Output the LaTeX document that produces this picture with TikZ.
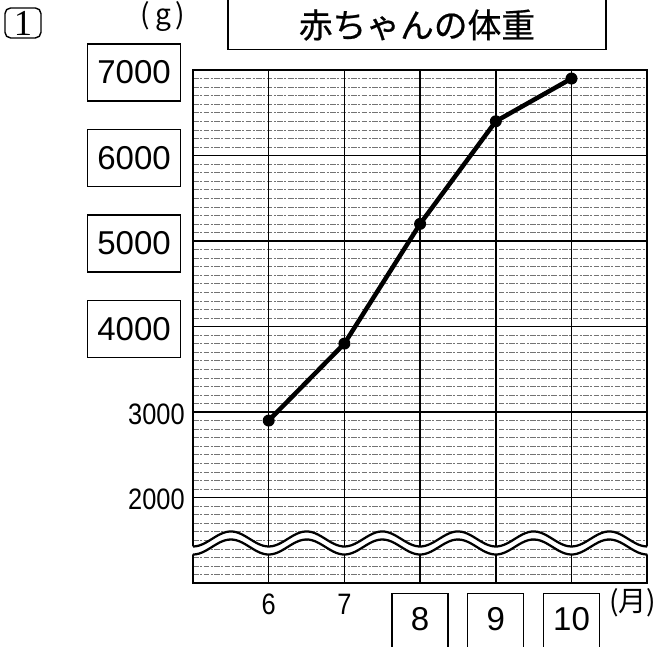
\documentclass[tikz,border=0pt]{standalone}
\usepackage{fontspec}
\newfontfamily\jpfont{Noto Sans CJK JP}
\newfontfamily\titlefont[FakeBold=0.6]{Noto Sans CJK JP}
\newfontfamily\numfont[FakeStretch=0.86]{Liberation Sans}
\newfontfamily\boxnumfont{Liberation Sans}
\newfontfamily\qnumfont{Liberation Serif}

\tikzset{
  grid minor/.style={black!55, line width=0.35pt, dash pattern=on 4pt off 1pt on 1.5pt off 1pt},
  grid major/.style={black, line width=1.1pt},
  frame line/.style={black, line width=1.5pt},
  wave line/.style={black, line width=1.6pt},
  data line/.style={black, line width=3.2pt, line join=round},
  num box/.style={draw, line width=0.9pt, inner sep=0pt,
    font=\boxnumfont\fontsize{23.5}{23.5}\selectfont,
    minimum width=2.325cm, minimum height=1.425cm},
  num plain/.style={inner sep=0pt, font=\numfont\fontsize{21}{21}\selectfont},
  month box/.style={draw, line width=0.9pt, inner sep=0pt, anchor=north,
    font=\boxnumfont\fontsize{23.5}{23.5}\selectfont, text depth=0.35cm,
    minimum width=1.4cm, minimum height=1.6cm},
  unit/.style={inner sep=0pt, font=\jpfont\fontsize{20}{20}\selectfont}
}

\begin{document}
\begin{tikzpicture}[x=1.8925cm, y=2.1375cm]
  \useasboundingbox (2.4505,0.2515) rectangle (11.1295,7.8187);

  % grid
  \foreach \v in {1,...,6}
    \foreach \k in {1,...,9}
      \draw[grid minor] (5,\v+\k/10) -- (11,\v+\k/10);
  \foreach \v in {2,...,6}
    \draw[grid major] (5,\v) -- (11,\v);
  \foreach \m in {6,...,10}
    \draw[grid major] (\m,1) -- (\m,7);
  \draw[frame line] (5,1) rectangle (11,7);

  % break
  \fill[white] plot[domain=4.98:11.02, samples=150, smooth] (\x,{1.515-0.088*cos(360*\x)})
    -- plot[domain=11.02:4.98, samples=150, smooth] (\x,{1.421-0.088*cos(360*\x)}) -- cycle;
  \draw[wave line] plot[domain=5:11, samples=150, smooth] (\x,{1.515-0.088*cos(360*\x)});
  \draw[wave line] plot[domain=5:11, samples=150, smooth] (\x,{1.421-0.088*cos(360*\x)});

  % data
  \foreach \m/\w in {6/2.9, 7/3.8, 8/5.2, 9/6.4, 10/6.9}
    \coordinate (p\m) at (\m,\w);
  \draw[data line] (p6) -- (p7) -- (p8) -- (p9) -- (p10);
  \foreach \m in {6,...,10}
    \fill (p\m) circle[radius=0.15cm];

  % axis labels
  \foreach \v in {4,...,7}
    \node[num box] (y\v) at (4.221,\v-0.03) {\v000};
  \foreach \v in {2,3}
    \node[num plain, anchor=east] (y\v) at (4.894,\v-0.025) {\v000};
  \foreach \m in {6,7}
    \node[num plain] (x\m) at (\m,0.754) {\m};
  \foreach \m in {8,9,10}
    \node[month box] (x\m) at (\m,0.883) {\m};
  \node[unit] (gram) at (4.604,7.62) {(\,g\,)};
  \node[unit, anchor=east] (month) at (11.125,0.77) {(月)};

  % title
  \node[draw, line width=1pt, rounded corners=4pt, inner sep=0pt,
    minimum width=0.9cm, minimum height=0.75cm,
    font=\qnumfont\fontsize{26}{26}\selectfont] (qnum) at (2.754,7.55) {1};
  \node[draw, line width=0.9pt, anchor=south, minimum width=9.45cm,
    minimum height=1.5cm] (titlebox) at (7.959,7.234) {};
  \node[inner sep=0pt, font=\titlefont\fontsize{24}{24}\selectfont] (title)
    at (7.959,7.526) {赤ちゃんの体重};
\end{tikzpicture}
\end{document}
